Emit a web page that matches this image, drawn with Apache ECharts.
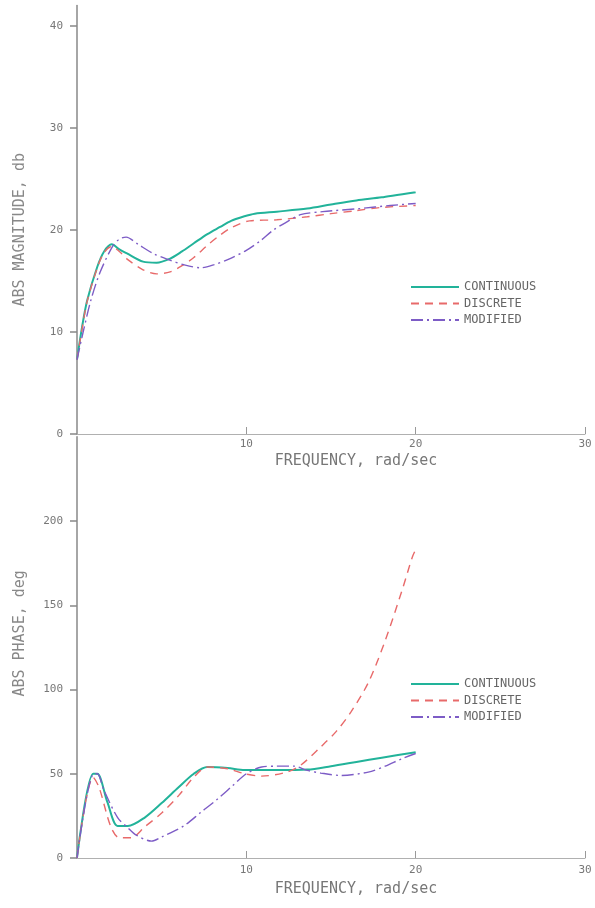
<!DOCTYPE html>
<html>
<head>
<meta charset="utf-8">
<script src="https://cdn.jsdelivr.net/npm/echarts@6/dist/echarts.min.js"></script>
<style>html,body{margin:0;padding:0;background:#fff}#c{width:595px;height:908px}</style>
</head>
<body>
<div id="c"></div>
<script>
// ---- data ----
const seriesNames = ['CONTINUOUS', 'DISCRETE', 'MODIFIED'];
const xTicks = [10, 20, 30];
const magTicks = [0, 10, 20, 30, 40];
const phaseTicks = [0, 50, 100, 150, 200];

const magContinuous = [[0,7.3],[0.3,10.5],[0.6,13.1],[1.2,16.4],[1.6,17.9],[2.05,18.6],[2.5,18.1],[2.95,17.7],[3.9,16.9],[4.7,16.8],[5.5,17.2],[6.2,17.9],[6.9,18.7],[7.7,19.6],[8.45,20.3],[9.1,20.9],[9.8,21.3],[10.5,21.6],[11.8,21.8],[13.6,22.1],[15,22.5],[16.5,22.9],[18,23.2],[20,23.7]];
const magDiscrete = [[0,7.3],[0.3,10.3],[0.6,13],[1.2,16.3],[1.6,17.8],[2.05,18.4],[2.5,17.9],[3,17.1],[3.9,16.1],[4.7,15.7],[5.5,15.9],[6.2,16.5],[6.9,17.3],[7.7,18.5],[8.45,19.5],[9.2,20.3],[10.2,20.9],[11.8,21.0],[13.6,21.3],[15,21.6],[16.5,21.9],[17.9,22.2],[20,22.4]];
const magModified = [[0,7.3],[0.35,9.9],[0.8,13],[1.35,15.8],[2.1,18.4],[2.5,19.1],[2.9,19.3],[3.6,18.6],[4.5,17.7],[5.4,17.1],[6.3,16.6],[7.3,16.3],[8.1,16.6],[8.9,17.1],[10,18.0],[10.8,18.9],[11.6,20.0],[12.4,20.8],[13.2,21.5],[14.5,21.8],[16.7,22.1],[18.5,22.4],[20,22.6]];

const phaseContinuous = [[0,0],[0.95,50],[1.2,50],[1.8,33],[2.4,19],[3.0,19],[4.0,24],[5.0,32.6],[6.0,42],[6.9,50],[7.7,54],[8.9,53.4],[9.9,52.2],[11.8,52.2],[13.6,52.5],[15,54.5],[16.5,57],[18,59.5],[20,62.8]];
const phaseDiscrete = [[0,0],[0.95,48],[1.3,42],[2.0,18.5],[2.5,12],[3.2,12],[4.0,18.5],[5.0,26.7],[6.0,37],[6.9,48],[7.7,54],[8.9,53],[9.9,50],[10.9,48.6],[12.4,51],[13.2,55],[14.4,66],[15.3,75],[16.2,87],[17.2,104],[18.2,129],[19.2,159],[19.8,178.5],[20,183]];
const phaseModified = [[0,0],[1.0,50],[1.2,50],[1.6,40],[2.4,24],[3.0,18],[3.5,13.6],[4.4,10],[5.0,12.5],[6.3,19],[7.3,27],[8.3,35],[9.2,43],[10,50],[10.9,54],[11.8,54.5],[12.8,54.5],[13.6,52],[14.4,50.4],[15.6,49],[17.2,51],[18.2,54.5],[19.2,59],[20,62]];

// ---- styles ----
const colors = ['#22b39a', '#e86a6a', '#7d5cc6'];
const lineTypes = ['solid', [8, 6], [12, 4, 2, 4]];
const widths = [2, 1.4, 1.4];
const FONT = 'DejaVu Sans Mono';
const GRAY = '#777';

function xAxis(gridIndex, nameGap, labelMargin) {
  return {
    gridIndex, type: 'value', min: 0, max: 30, interval: 10,
    name: 'FREQUENCY, rad/sec', nameLocation: 'middle', nameGap,
    nameTextStyle: { fontFamily: FONT, fontSize: 15, color: GRAY, padding: [0, 0, 0, 50] },
    axisLine: { show: true, lineStyle: { color: '#b0b0b0', width: 1 } },
    axisTick: { show: true, inside: true, length: 7, customValues: xTicks, lineStyle: { color: '#999' } },
    axisLabel: { customValues: xTicks, margin: labelMargin, fontFamily: FONT, fontSize: 11, color: GRAY },
    splitLine: { show: false }
  };
}
function yAxis(gridIndex, max, interval, ticks, name, namePad) {
  return {
    gridIndex, type: 'value', min: 0, max, interval,
    name, nameLocation: 'middle', nameRotate: 90, nameGap: 49,
    nameTextStyle: { fontFamily: FONT, fontSize: 15, color: '#888', padding: namePad },
    axisLine: { show: true, lineStyle: { color: '#888', width: 1.5 } },
    axisTick: { show: true, inside: false, length: 7, customValues: ticks, lineStyle: { color: '#888', width: 1.5 } },
    axisLabel: { customValues: ticks, margin: 14, fontFamily: FONT, fontSize: 11, color: GRAY },
    splitLine: { show: false }
  };
}
function mkSeries(name, i, data, gi) {
  return {
    name, type: 'line', xAxisIndex: gi, yAxisIndex: gi, data,
    symbol: 'none', smooth: 0.3, animation: false,
    lineStyle: { color: colors[i], width: widths[i], type: lineTypes[i] },
    itemStyle: { color: colors[i] }
  };
}
function legend(top) {
  return {
    data: seriesNames, orient: 'vertical', left: 405, top,
    itemWidth: 48, itemHeight: 10, itemGap: 4.5,
    itemStyle: { opacity: 0 },
    textStyle: { fontFamily: FONT, fontSize: 12, lineHeight: 12, color: '#666' },
    selectedMode: false
  };
}

const chart = echarts.init(document.getElementById('c'), null, { renderer: 'canvas' });
chart.setOption({
  backgroundColor: '#fff',
  animation: false,
  grid: [
    { left: 77, top: 5.6, width: 508, height: 428.4 },
    { left: 77, top: 436.75, width: 508, height: 421.25 }
  ],
  xAxis: [xAxis(0, 20, 5), xAxis(1, 24, 7)],
  yAxis: [
    yAxis(0, 42, 10, magTicks, 'ABS MAGNITUDE, db', [0, 20, 0, 0]),
    yAxis(1, 250, 50, phaseTicks, 'ABS PHASE, deg', [0, 0, 0, 28])
  ],
  legend: [legend(276), legend(673)],
  series: [
    mkSeries(seriesNames[0], 0, magContinuous, 0),
    mkSeries(seriesNames[1], 1, magDiscrete, 0),
    mkSeries(seriesNames[2], 2, magModified, 0),
    mkSeries(seriesNames[0], 0, phaseContinuous, 1),
    mkSeries(seriesNames[1], 1, phaseDiscrete, 1),
    mkSeries(seriesNames[2], 2, phaseModified, 1)
  ]
});
</script>
</body>
</html>
